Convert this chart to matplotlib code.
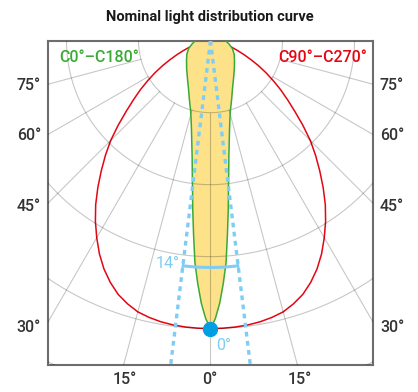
import numpy as np
import matplotlib
matplotlib.use("Agg")
import matplotlib.pyplot as plt

plt.rcParams['font.family'] = ['Roboto', 'DejaVu Sans']
plt.rcParams['lines.scale_dashes'] = False

# Luminous intensity (cd) by angle from nadir, both planes symmetric
red_angles = [0, 2.5, 5, 7.5, 10, 12.5, 15, 17.5, 20, 22.5, 25, 27.5, 30, 32.5, 35, 37.5,
              40, 42.5, 45, 47.5, 50, 52.5, 55, 57.5, 60, 62.5, 65, 67.5, 70, 72.5, 75,
              77.5, 80, 85, 90]
red_cd = [8000, 7995, 7985, 7965, 7930, 7875, 7800, 7665, 7500, 7270, 7000, 6680, 6320,
          5950, 5560, 5140, 4720, 4320, 3920, 3480, 3060, 2700, 2380, 2070, 1780, 1500,
          1230, 1000, 800, 640, 520, 440, 380, 300, 250]

green_angles = [0, 1, 2, 3, 4, 5, 6, 7, 8, 9, 10, 12, 14, 16, 20, 25, 30, 40, 50, 60, 70, 80, 90]
green_cd = [8000, 7720, 7300, 6760, 6190, 5400, 4720, 4100, 3640, 3260, 2980, 2540,
            2230, 2010, 1720, 1450, 1270, 1030, 870, 760, 650, 520, 420]

beam_angle = 14
grid_circles = [2000, 4000, 6000, 8000, 10000]
grid_angles = [15, 30, 45, 60, 75]
side_labels = ['75°', '60°', '45°', '30°']
bottom_labels = ['15°', '0°', '15°']

RED = '#e30613'
GREEN = '#3aaa35'
YELLOW = '#fde28a'
LIGHTBLUE = '#7fcdf3'
BLUE = '#009fe3'


def to_xy(angles, values):
    # mirror the curve, 0 deg points straight down from the origin
    a = np.radians(np.concatenate([-np.array(angles[::-1]), np.array(angles[1:])]))
    v = np.concatenate([np.array(values[::-1]), np.array(values[1:])])
    return v * np.sin(a), -v * np.cos(a)


fig = plt.figure(figsize=(4.18, 3.92), dpi=100)
ax = fig.add_axes([48.3 / 418, 1 - 365 / 392, 324.4 / 418, 324.3 / 392])
half = 4505
ax.set_xlim(-half, half)
ax.set_ylim(-2 * half, 0)
ax.set_xticks([])
ax.set_yticks([])
for s in ax.spines.values():
    s.set_color('#6d6d6d')
    s.set_linewidth(1.5)

# grid
t = np.linspace(0, 2 * np.pi, 400)
for rc in grid_circles:
    ax.plot(rc * np.cos(t), rc * np.sin(t), color='k', alpha=0.22, lw=0.8, zorder=3)
for g in [0] + grid_angles + [-g for g in grid_angles]:
    a = np.radians(g)
    ax.plot([grid_circles[0] * np.sin(a), 14000 * np.sin(a)],
            [-grid_circles[0] * np.cos(a), -14000 * np.cos(a)],
            color='k', alpha=0.22, lw=0.8, zorder=3)

# curves
rx, ry = to_xy(red_angles, red_cd)
ax.plot(rx, ry, color=RED, lw=1.1, zorder=1)
gx, gy = to_xy(green_angles, green_cd)
ax.fill(gx, gy, color=YELLOW, lw=0, zorder=2)
ax.plot(gx, gy, color=GREEN, lw=1.1, zorder=4)

# beam angle
h = np.radians(beam_angle / 2)
for sgn in [-1, 1]:
    ax.plot([0, 14000 * np.sin(sgn * h)], [0, -14000 * np.cos(sgn * h)],
            color=LIGHTBLUE, lw=2.4, dashes=(3.4, 3.2), zorder=5)
arc_r = 6300
ta = np.linspace(-h, h, 50)
ax.plot(arc_r * np.sin(ta), -arc_r * np.cos(ta), color=LIGHTBLUE, lw=2.2, zorder=6,
        solid_capstyle='butt')
for sgn in [-1, 1]:
    ax.plot([(arc_r - 110) * np.sin(sgn * h), (arc_r + 110) * np.sin(sgn * h)],
            [-(arc_r - 110) * np.cos(sgn * h), -(arc_r + 110) * np.cos(sgn * h)],
            color=LIGHTBLUE, lw=1.6, zorder=6)
ax.plot([0], [-red_cd[0]], 'o', color=BLUE, ms=10, zorder=7)

ax.text(-arc_r * np.sin(h) - 80, -arc_r * np.cos(h) + 60, f'{beam_angle}°',
        color=LIGHTBLUE, fontsize=11.5, ha='right', va='center', zorder=8)
ax.text(150, -red_cd[0] - 480, '0°', color=LIGHTBLUE, fontsize=11.5,
        ha='left', va='center', zorder=8)

# texts
fig.text(210 / 418, 1 - 17 / 392, 'Nominal light distribution curve', ha='center',
         va='center', fontsize=10.5, fontweight='bold', color='#1a1a1a')
fig.text(59 / 418, 1 - 57 / 392, 'C0°–C180°', ha='left', va='center',
         fontsize=11.5, color=GREEN, fontweight='medium')
fig.text(367 / 418, 1 - 57 / 392, 'C90°–C270°', ha='right', va='center',
         fontsize=11.5, color=RED, fontweight='medium')

side_y = [85, 135, 207, 327]
for lab, yy in zip(side_labels, side_y):
    fig.text(41 / 418, 1 - yy / 392, lab, ha='right', va='center', fontsize=11.5,
             color='#333333', fontweight='medium')
    fig.text(380 / 418, 1 - yy / 392, lab, ha='left', va='center', fontsize=11.5,
             color='#333333', fontweight='medium')
bottom_x = [125, 210, 300]
for lab, xx in zip(bottom_labels, bottom_x):
    fig.text(xx / 418, 1 - 380 / 392, lab, ha='center', va='center', fontsize=11.5,
             color='#333333', fontweight='medium')

fig.savefig('out.png', dpi=100)
